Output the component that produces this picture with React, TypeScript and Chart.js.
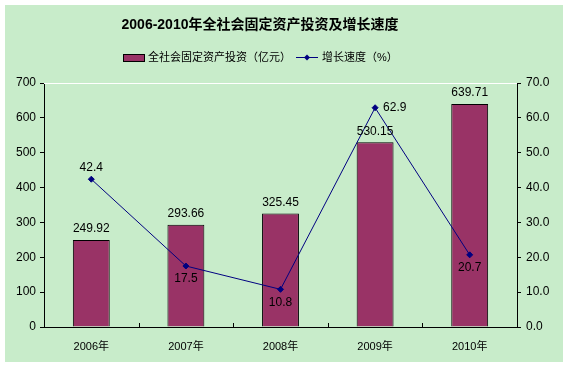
import React, { useEffect, useRef } from "react";
import { Chart, registerables } from "chart.js";

Chart.register(...registerables);

const categories = ["2006年", "2007年", "2008年", "2009年", "2010年"];
const investment = [249.92, 293.66, 325.45, 530.15, 639.71];
const growth = [42.4, 17.5, 10.8, 62.9, 20.7];
const growthLabelPlacement = ["above", "below", "below", "right", "below"];

const titleText = "2006-2010年全社会固定资产投资及增长速度";
const barLegend = "全社会固定资产投资（亿元）";
const lineLegend = "增长速度（%）";

const BAR_COLOR = "#993366";
const LINE_COLOR = "#000080";
const FONT = "'Liberation Sans', Arial, 'Noto Sans CJK SC', sans-serif";

const W = 558;
const H = 357;

const customPlugin = {
  id: "custom",
  beforeDatasetsDraw(chart: any) {
    const { ctx, chartArea } = chart;
    ctx.save();
    ctx.strokeStyle = "#ffffff";
    ctx.lineWidth = 1;
    ctx.beginPath();
    ctx.moveTo(chartArea.left, chartArea.top + 0.5);
    ctx.lineTo(chartArea.right, chartArea.top + 0.5);
    ctx.stroke();
    ctx.restore();
  },
  afterDatasetsDraw(chart: any) {
    const { ctx, chartArea } = chart;
    ctx.save();
    // inward x ticks at category boundaries
    const n = categories.length;
    const cw = (chartArea.right - chartArea.left) / n;
    ctx.strokeStyle = "#000";
    ctx.lineWidth = 1;
    ctx.beginPath();
    for (let i = 1; i < n; i++) {
      const x = Math.round(chartArea.left + i * cw) + 0.5;
      ctx.moveTo(x, chartArea.bottom);
      ctx.lineTo(x, chartArea.bottom - 4);
    }
    ctx.stroke();

    ctx.fillStyle = "#000";
    ctx.font = `12px ${FONT}`;
    ctx.textBaseline = "middle";
    const barMeta = chart.getDatasetMeta(0);
    barMeta.data.forEach((el: any, i: number) => {
      ctx.textAlign = "center";
      ctx.fillText(investment[i].toFixed(2), el.x, el.y - 11);
    });
    const lineMeta = chart.getDatasetMeta(1);
    lineMeta.data.forEach((el: any, i: number) => {
      const pos = growthLabelPlacement[i];
      const txt = growth[i].toFixed(1);
      if (pos === "above") {
        ctx.textAlign = "center";
        ctx.fillText(txt, el.x, el.y - 12);
      } else if (pos === "below") {
        ctx.textAlign = "center";
        ctx.fillText(txt, el.x, el.y + 13);
      } else {
        ctx.textAlign = "left";
        ctx.fillText(txt, el.x + 8, el.y);
      }
    });
    ctx.restore();
  },
  afterDraw(chart: any) {
    const { ctx } = chart;
    ctx.save();
    ctx.fillStyle = "#000";
    ctx.textBaseline = "middle";
    ctx.textAlign = "center";
    ctx.font = `bold 14px ${FONT}`;
    ctx.fillText(titleText, 255, 20);

    // legend
    ctx.font = `11px ${FONT}`;
    ctx.textAlign = "left";
    ctx.fillStyle = BAR_COLOR;
    ctx.fillRect(118, 49, 21, 7);
    ctx.strokeStyle = "#000";
    ctx.lineWidth = 1;
    ctx.strokeRect(118.5, 49.5, 21, 7);
    ctx.fillStyle = "#000";
    ctx.fillText(barLegend, 143, 53);

    ctx.strokeStyle = LINE_COLOR;
    ctx.beginPath();
    ctx.moveTo(291, 52.5);
    ctx.lineTo(313, 52.5);
    ctx.stroke();
    ctx.fillStyle = LINE_COLOR;
    ctx.beginPath();
    ctx.moveTo(302, 49.5);
    ctx.lineTo(305, 52.5);
    ctx.lineTo(302, 55.5);
    ctx.lineTo(299, 52.5);
    ctx.closePath();
    ctx.fill();
    ctx.fillStyle = "#000";
    ctx.fillText(lineLegend, 317, 53);
    ctx.restore();
  },
};

export default function App() {
  const ref = useRef<HTMLCanvasElement | null>(null);
  useEffect(() => {
    if (!ref.current) return;
    const chart = new Chart(ref.current, {
      type: "bar",
      data: {
        labels: categories,
        datasets: [
          {
            type: "bar",
            label: barLegend,
            data: investment,
            backgroundColor: BAR_COLOR,
            borderColor: "#000",
            borderWidth: 1,
            barPercentage: 0.39,
            categoryPercentage: 1,
            yAxisID: "y",
            order: 2,
          },
          {
            type: "line",
            label: lineLegend,
            data: growth,
            borderColor: LINE_COLOR,
            borderWidth: 1,
            backgroundColor: LINE_COLOR,
            pointStyle: "rectRot",
            pointRadius: 3,
            pointBackgroundColor: LINE_COLOR,
            pointBorderColor: LINE_COLOR,
            tension: 0,
            yAxisID: "y1",
            order: 1,
          } as any,
        ],
      },
      plugins: [customPlugin],
      options: {
        responsive: false,
        animation: false,
        devicePixelRatio: 1,
        layout: { padding: { top: 78, left: 0, right: 0, bottom: 0 } },
        plugins: {
          legend: { display: false },
          title: { display: false },
          tooltip: { enabled: false },
        },
        scales: {
          x: {
            offset: true,
            grid: { display: true, drawOnChartArea: false, drawTicks: false, color: "rgba(0,0,0,0)" },
            border: { display: true, color: "#000", width: 1 },
            ticks: { color: "#000", font: { family: FONT, size: 11 }, padding: 13 },
            afterFit: (s: any) => {
              s.height = 35;
            },
          },
          y: {
            position: "left",
            min: 0,
            max: 700,
            grid: { display: true, drawOnChartArea: false, drawTicks: true, tickLength: 4, color: "#000" },
            border: { display: true, color: "#000", width: 1 },
            ticks: { stepSize: 100, color: "#000", font: { family: FONT, size: 12 }, padding: 4 },
            afterFit: (s: any) => {
              s.width = 39;
            },
          },
          y1: {
            position: "right",
            min: 0,
            max: 70,
            grid: { display: true, drawOnChartArea: false, drawTicks: true, tickLength: 4, color: "#000" },
            border: { display: true, color: "#000", width: 1 },
            ticks: {
              stepSize: 10,
              color: "#000",
              font: { family: FONT, size: 12 },
              padding: 5,
              callback: (v: any) => Number(v).toFixed(1),
            },
            afterFit: (s: any) => {
              s.width = 46;
            },
          },
        },
      },
    });
    return () => chart.destroy();
  }, []);

  return (
    <div
      style={{
        position: "absolute",
        left: 5,
        top: 5,
        width: W,
        height: H,
        background: "#C8ECCA",
      }}
    >
      <canvas ref={ref} width={W} height={H} style={{ display: "block" }} />
    </div>
  );
}
